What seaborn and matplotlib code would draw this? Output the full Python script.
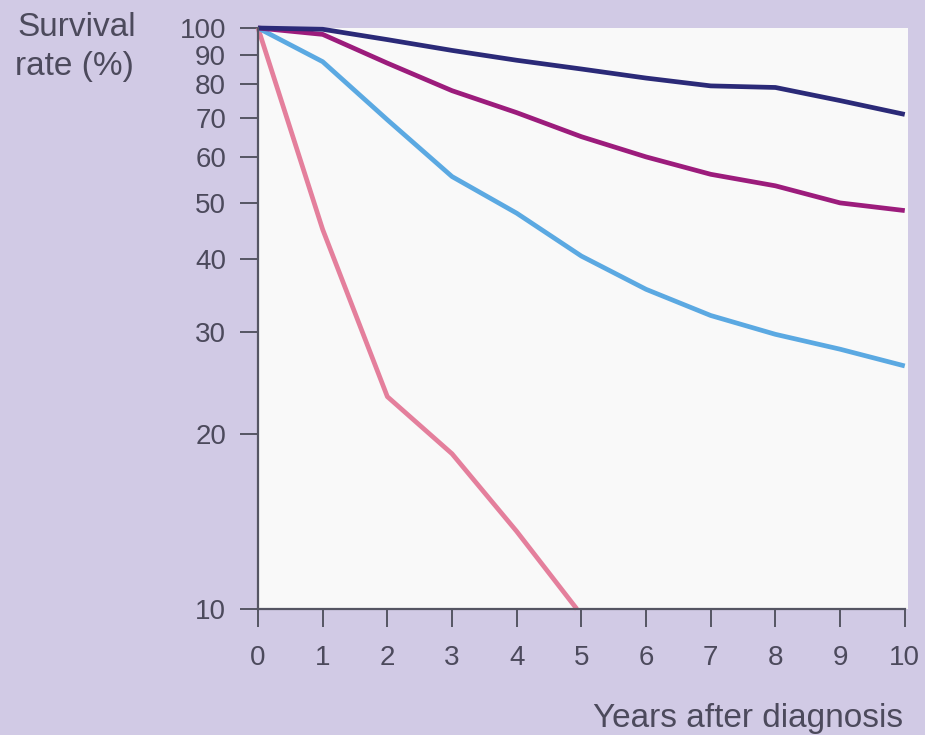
import matplotlib
matplotlib.use("Agg")
import matplotlib.pyplot as plt
import seaborn as sns
import pandas as pd
import numpy as np

# ---- data ----
years_full = [0, 1, 2, 3, 4, 5, 6, 7, 8, 9, 10]
navy_vals = [100, 99.5, 95.5, 91.5, 88, 85, 82, 79.5, 79, 75, 71]
purple_vals = [100, 97.5, 87, 78, 71.5, 65, 60, 56, 53.5, 50, 48.5]
blue_vals = [100, 87.5, 69.5, 55.5, 48, 40.5, 35.5, 32, 29.7, 28, 26.2]
years_pink = [0, 1, 2, 3, 4, 4.93]
pink_vals = [100, 45, 23.2, 18.5, 13.6, 10]

y_ticks = [10, 20, 30, 40, 50, 60, 70, 80, 90, 100]
x_ticks = [0, 1, 2, 3, 4, 5, 6, 7, 8, 9, 10]

series = {
    "navy": (years_full, navy_vals),
    "purple": (years_full, purple_vals),
    "blue": (years_full, blue_vals),
    "pink": (years_pink, pink_vals),
}
colors = {"navy": "#2b2a78", "purple": "#9c1c7c", "blue": "#5ba9e2", "pink": "#e47f9c"}

rows = []
for name, (xs, ys) in series.items():
    for x, y in zip(xs, ys):
        rows.append({"year": x, "rate": y, "group": name})
df = pd.DataFrame(rows)

sns.set_style("white")
plt.rcParams["font.family"] = ["Liberation Sans", "DejaVu Sans"]

bg = "#d1cae5"
txt = "#4c4a5c"
axcol = "#555563"
fs = 20
fs_title = 24

fig = plt.figure(figsize=(9.25, 7.35), dpi=100, facecolor=bg)
ax = fig.add_axes([258 / 925, 1 - 609 / 735, 650 / 925, 581 / 735])
ax.set_facecolor("#f9f9f9")

for name in ["pink", "blue", "purple", "navy"]:
    sub = df[df["group"] == name]
    sns.lineplot(data=sub, x="year", y="rate", ax=ax, color=colors[name],
                 linewidth=3.4, sort=False, estimator=None, clip_on=False,
                 solid_joinstyle="round", solid_capstyle="butt")

ax.set_yscale("log")
ax.set_ylim(10, 100)
ax.set_xlim(0, 10.05)
ax.set_yticks(y_ticks)
ax.set_yticklabels([str(v) for v in y_ticks])
ax.yaxis.set_minor_locator(matplotlib.ticker.NullLocator())
ax.set_xticks(x_ticks)
ax.set_xticklabels([str(v) for v in x_ticks])

for s in ["top", "right"]:
    ax.spines[s].set_visible(False)
for s in ["left", "bottom"]:
    ax.spines[s].set_color(axcol)
    ax.spines[s].set_linewidth(1.6)
ax.spines["bottom"].set_bounds(0, 10)

ax.tick_params(axis="both", which="major", direction="out", length=13,
               width=1.4, color=axcol, labelcolor=txt, labelsize=fs,
               bottom=True, left=True)
ax.tick_params(axis="y", pad=10)
ax.tick_params(axis="x", pad=13)
ax.set_xlabel("")
ax.set_ylabel("")

fig.text(17 / 925, 1 - 36 / 735, "Survival", ha="left", va="baseline",
         fontsize=fs_title, color=txt)
fig.text(15 / 925, 1 - 75 / 735, "rate (%)", ha="left", va="baseline",
         fontsize=fs_title, color=txt)
fig.text(903 / 925, 1 - 727 / 735, "Years after diagnosis", ha="right",
         va="baseline", fontsize=fs_title, color=txt)

fig.savefig("out.png", dpi=100, facecolor=bg)
